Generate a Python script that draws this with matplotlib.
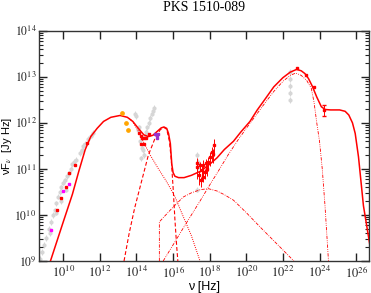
import numpy as np
import matplotlib
matplotlib.use("Agg")
import matplotlib.pyplot as plt
from matplotlib.ticker import FixedLocator, LogLocator, NullLocator, FuncFormatter

plt.rcParams['mathtext.fontset'] = 'stix'
plt.rcParams['font.family'] = 'Liberation Serif'

# ---- model curves (log10 nu, log10 nuFnu) ----
total_lognu = [9.3, 10.0, 10.5, 10.85, 11.2, 11.5, 11.85, 12.2, 12.6, 13.1, 13.5, 13.8,
               14.1, 14.4, 14.65, 14.9, 15.15, 15.35, 15.5, 15.65, 15.75, 15.85, 15.93,
               16.0, 16.1, 16.3, 16.6, 17.0, 17.5, 18.0, 18.4, 18.8, 19.3, 19.7, 20.2,
               20.6, 21.0, 21.5, 22.0, 22.4, 22.75, 23.0, 23.2, 23.4, 23.6, 23.85, 24.1,
               24.3, 24.6, 25.1, 25.4, 25.6, 25.8, 25.95, 26.13, 26.4, 26.75]
total_logF = [9.0, 9.85, 10.45, 10.95, 11.42, 11.7, 11.88, 12.03, 12.12, 12.16, 12.12, 12.03,
              11.88, 11.74, 11.70, 11.73, 11.82, 11.89, 11.91, 11.88, 11.77, 11.55, 11.1,
              10.92, 10.84, 10.81, 10.81, 10.86, 10.95, 11.1, 11.24, 11.42, 11.6, 11.8, 12.03,
              12.28, 12.5, 12.78, 12.98, 13.1, 13.16, 13.13, 13.07, 12.96, 12.8, 12.56, 12.35,
              12.29, 12.28, 12.28, 12.25, 12.17, 12.0, 11.77, 11.26, 10.2, 9.35]

sync_lognu = [13.6, 13.8, 14.1, 14.4, 14.75, 15.2, 15.65, 16.1, 16.56, 17.0, 17.47]
sync_logF = [12.1, 12.02, 11.82, 11.57, 11.3, 11.0, 10.72, 10.4, 9.96, 9.55, 9.0]

disk_lognu = [13.32, 13.6, 13.9, 14.29, 14.65, 15.0, 15.3, 15.5, 15.65, 15.8, 15.9, 16.0,
              16.1, 16.2, 16.26]
disk_logF = [9.0, 9.6, 10.15, 10.75, 11.3, 11.65, 11.85, 11.9, 11.86, 11.6, 11.2, 10.6,
             9.9, 9.3, 9.0]

hump_lognu = [15.25, 15.25, 15.6, 16.0, 16.56, 17.0, 17.5, 17.93, 18.4, 18.8, 19.3, 20.0,
              20.75, 21.6, 22.6]
hump_logF = [9.0, 9.85, 10.0, 10.17, 10.39, 10.48, 10.55, 10.57, 10.52, 10.44, 10.32, 10.05,
             9.74, 9.4, 9.0]

ec_lognu = [15.46, 16.0, 16.5, 17.0, 17.5, 18.0, 18.5, 19.0, 19.55, 20.0, 20.5, 21.0, 21.5,
            22.0, 22.4, 22.7, 23.0, 23.3, 23.55, 23.7, 23.85, 24.0, 24.15, 24.3, 24.49]
ec_logF = [9.0, 9.35, 9.68, 10.0, 10.32, 10.65, 10.97, 11.3, 11.63, 11.88, 12.15, 12.42,
           12.68, 12.9, 13.03, 13.08, 13.03, 12.92, 12.75, 12.45, 12.0, 11.6, 11.0, 10.2, 9.0]

# ---- data points ----
red_lognu = [9.67, 9.86, 10.13, 10.31, 10.64, 11.31,
             14.14, 14.22, 14.3, 14.4, 14.5, 14.26, 14.4, 14.7,
             22.76, 23.25, 23.71]
red_logF = [10.10, 10.36, 10.61, 10.90, 11.08, 11.57,
            11.77, 11.72, 11.68, 11.66, 11.67, 11.53, 11.53, 11.76,
            13.18, 13.04, 12.78]

xray_lognu = [17.29, 17.33, 17.43, 17.47, 17.51, 17.56, 17.65, 17.65, 17.75, 17.8, 17.84,
              17.93, 18.02, 18.11, 18.2, 18.26]
xray_logF = [11.04, 11.13, 10.86, 11.08, 10.75, 10.97, 10.83, 11.08, 10.93, 11.12, 11.0,
             11.15, 11.26, 11.37, 11.33, 11.52]
xray_err = [0.25, 0.2, 0.2, 0.15, 0.15, 0.2, 0.12, 0.22, 0.15, 0.2, 0.15, 0.2, 0.2, 0.2,
            0.2, 0.25]

gev_lognu = [24.25]
gev_logF = [12.27]
gev_err = [0.12]

magenta_lognu = [9.33, 10.0, 10.31]
magenta_logF = [9.68, 10.52, 10.68]

orange_lognu = [13.19, 13.43, 13.54]
orange_logF = [12.22, 12.0, 11.84]

uv_lognu = [15.0, 15.1, 15.2, 15.1]
uv_logF = [11.75, 11.73, 11.76, 11.68]

gray_lognu = [8.75, 8.85, 8.95, 9.05, 9.2, 9.3, 9.35, 9.45, 9.55, 9.6, 9.6, 9.7, 9.8, 9.85,
              9.9, 10.0, 10.1, 10.15, 10.2, 10.3, 10.4, 10.5, 10.6, 10.7, 10.9, 11.0, 11.1,
              11.2, 11.35, 11.5, 11.6,
              13.92, 14.0, 14.1, 14.15, 14.2, 14.25, 14.3, 14.35, 14.4, 14.45, 14.5, 14.55,
              14.6, 14.7, 14.75, 14.85, 14.9, 14.96,
              17.3, 17.35, 17.38, 17.3,
              22.4, 22.4, 22.4, 22.4, 22.4]
gray_logF = [9.05, 9.2, 9.35, 9.5, 9.7, 9.6, 9.85, 10.0, 10.1, 10.25, 10.05, 10.4, 10.5, 10.3,
             10.6, 10.7, 10.75, 10.55, 10.85, 10.9, 11.0, 11.1, 11.15, 11.2, 11.35, 11.4, 11.5,
             11.55, 11.65, 11.72, 11.78,
             12.2, 12.15, 11.85, 11.9, 11.6, 11.23, 11.45, 11.4, 11.3, 11.7, 11.8, 11.75,
             11.9, 12.0, 12.1, 12.2, 12.25, 12.33,
             11.3, 11.15, 11.04, 10.55,
             13.1, 12.95, 12.8, 12.65, 12.5]

red = '#ff0000'
fig = plt.figure(figsize=(3.71, 2.93), dpi=100)
ax = fig.add_axes([0.1059, 0.1092, 0.8895, 0.786])

p = lambda a: 10 ** np.array(a)

gy = p(gray_logF)
ax.errorbar(p(gray_lognu), gy, yerr=[gy * (1 - 10 ** -0.06), gy * (10 ** 0.06 - 1)],
            fmt='o', ms=2.0, color='#d6d6d6', mec='#d6d6d6', elinewidth=0.7, capsize=0, zorder=1)

ax.plot(p(total_lognu), p(total_logF), color=red, lw=1.1, zorder=4)
ax.plot(p(sync_lognu), p(sync_logF), color=red, lw=0.7, ls=(0, (1, 1.2)), zorder=3)
ax.plot(p(disk_lognu), p(disk_logF), color=red, lw=0.8, ls=(0, (3.5, 2)), zorder=3)
ax.plot(p(hump_lognu), p(hump_logF), color=red, lw=0.6, ls=(0, (4, 1.5, 1, 1.5)), zorder=3)
ax.plot(p(ec_lognu), p(ec_logF), color=red, lw=0.6, ls=(0, (4, 1.5, 1, 1.5, 1, 1.5)), zorder=3)

ax.plot(p(red_lognu), p(red_logF), 's', ms=2.0, color=red, zorder=5)
xf = p(xray_logF)
xe = np.array(xray_err)
ax.errorbar(p(xray_lognu), xf, yerr=[xf * (1 - 10 ** -xe), xf * (10 ** (xe * 0.5) - 1)],
            fmt='s', ms=1.8, color=red, elinewidth=0.7, capsize=0, zorder=5)
gf = p(gev_logF)
ge = np.array(gev_err)
ax.errorbar(p(gev_lognu), gf, yerr=[gf * (1 - 10 ** -ge), gf * (10 ** ge - 1)],
            fmt='s', ms=2.0, color=red, elinewidth=0.7, capsize=1.2, zorder=5)
ax.plot(p(magenta_lognu), p(magenta_logF), 's', ms=2.0, color='#ff00ff', zorder=5)
ax.plot(p(orange_lognu), p(orange_logF), 'o', ms=2.4, color='#ffa500', zorder=5)
ax.plot(p(uv_lognu), p(uv_logF), 's', ms=2.0, color='#9932cc', zorder=5)

ax.set_xscale('log')
ax.set_yscale('log')
ax.set_xlim(10 ** 8.69, 10 ** 26.72)
ax.set_ylim(1e9, 1e14)

ax.xaxis.set_major_locator(FixedLocator([10.0 ** k for k in range(10, 27, 2)]))
ax.xaxis.set_minor_locator(NullLocator())
ax.yaxis.set_major_locator(FixedLocator([10.0 ** k for k in range(9, 15)]))
ax.yaxis.set_minor_locator(LogLocator(base=10, subs=np.arange(2, 10), numticks=20))
fmt = FuncFormatter(lambda v, pos: r'$10^{%d}$' % round(np.log10(v)))
ax.xaxis.set_major_formatter(fmt)
ax.yaxis.set_major_formatter(fmt)

ax.tick_params(which='both', direction='in', top=True, right=True, labelsize=8.5, colors='#222222')
ax.tick_params(which='major', length=5.5, width=1)
ax.tick_params(which='minor', length=3, width=0.8)
ax.tick_params(axis='x', pad=3, labelsize=9)
ax.tick_params(axis='y', pad=2)
for s in ax.spines.values():
    s.set_linewidth(1.0)
    s.set_color('#333333')

ax.set_xlabel('ν [Hz]', family='Liberation Sans', fontsize=9, labelpad=0)
ax.set_ylabel('νF$_{\\nu}$  [Jy Hz]', family='Liberation Sans', fontsize=8)
ax.yaxis.set_label_coords(-0.078, 0.5)
ax.set_title('PKS 1510-089', fontsize=10, pad=14)

fig.savefig('out.png', dpi=100)
